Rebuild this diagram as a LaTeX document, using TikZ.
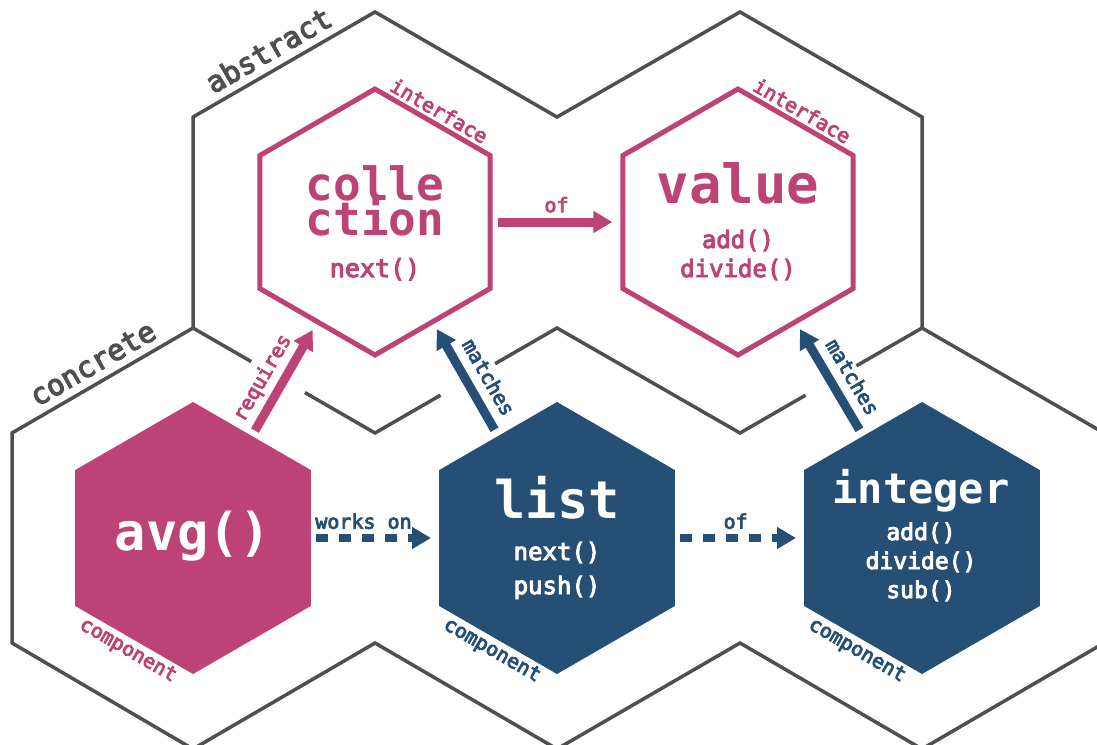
\documentclass[tikz,border=0pt]{standalone}
\usepackage{fontspec}
\newfontfamily\medmono[FakeBold=4]{DejaVu Sans Mono}
\newfontfamily\boldmono{DejaVu Sans Mono Bold}
\usetikzlibrary{arrows.meta,calc,shapes.geometric}

\definecolor{pinkc}{HTML}{BD4276}
\definecolor{bluec}{HTML}{264F75}
\definecolor{grayc}{HTML}{4F4F4F}

\begin{document}
\begin{tikzpicture}[x=1pt, y=-1pt,
  outline/.style={draw=grayc, line width=3.5pt},
  hexbase/.style={regular polygon, regular polygon sides=6, shape border rotate=30, inner sep=0pt},
  ihex/.style={hexbase, minimum size=266pt, draw=pinkc, line width=5pt},
  chex/.style={hexbase, minimum size=272pt, fill=#1},
  fs/.style={font=\medmono\fontsize{#1}{#1}\selectfont},
  ts/.style={font=\boldmono\fontsize{#1}{#1}\selectfont},
  lbl/.style={fs=20, inner sep=2pt},
  biglbl/.style={fs=29, text=grayc, inner sep=9pt, anchor=south},
  solidarrow/.style={draw=#1, line width=9pt, -{Triangle[length=19pt,width=21pt]}},
  dasharrow/.style={draw=bluec, line width=8pt, dash pattern=on 12pt off 11pt,
    -{Triangle[length=19pt,width=21pt]}, shorten <=5pt, shorten >=8pt},
]
\useasboundingbox (0,0) rectangle (1097,744);

% corners of the outer hex grid
\coordinate (A1) at (193,328);
\coordinate (B1) at (375,433);
\coordinate (A2) at (557,328);
\coordinate (B2) at (740,433);
\coordinate (A3) at (922,328);
\coordinate (P1) at (193,117);
\coordinate (P2) at (375,12);
\coordinate (Q1) at (12,433);

% abstract and concrete regions
\draw[outline, line join=miter] (A1) -- (P1) -- (P2) -- (557,117) -- (740,12) -- (922,117) -- (A3)
  -- (1104,433) -- (1104,643) -- (922,749) -- (740,643) -- (557,749) -- (375,643) -- (193,749)
  -- (12,643) -- (Q1) -- cycle;
\draw[outline] (A1) -- ($(A1)!0.32!(B1)$);
\draw[outline, line join=miter] ($(A1)!0.615!(B1)$) -- (B1) -- ($(B1)!0.36!(A2)$);
\draw[outline, line join=miter] ($(B1)!0.66!(A2)$) -- (A2) -- (B2) -- ($(B2)!0.36!(A3)$);
\draw[outline] ($(B2)!0.64!(A3)$) -- (A3);

\node[biglbl, rotate=30] (absL) at ($(P1)!0.47!(P2)$) {abstract};
\node[biglbl, rotate=30] (conL) at ($(Q1)!0.5!(A1)$) {concrete};

% interfaces
\node[ihex] (coll) at (375,222) {};
\node[ihex] (val) at (738,222) {};
% components
\node[chex=pinkc] (avg) at (193,538) {};
\node[chex=bluec] (list) at (557,538) {};
\node[chex=bluec] (int) at (922,538) {};

% texts inside the hexagons
\node[ts=46, text=pinkc, anchor=base] (collA) at (375,200) {colle};
\node[ts=46, text=pinkc, anchor=base] (collB) at (375,235) {ction};
\node[fs=25, text=pinkc, anchor=base] (collM) at (375,277) {next()};
\node[ts=54, text=pinkc, anchor=base] (valT) at (738,203) {value};
\node[fs=24, text=pinkc, anchor=base] (valM1) at (738,248) {add()};
\node[fs=24, text=pinkc, anchor=base] (valM2) at (738,277) {divide()};
\node[ts=52, text=white, anchor=base] (avgT) at (193,550) {avg()};
\node[ts=52, text=white, anchor=base] (listT) at (557,518) {list};
\node[fs=24, text=white, anchor=base] (listM1) at (557,560) {next()};
\node[fs=24, text=white, anchor=base] (listM2) at (557,594) {push()};
\node[ts=42, text=white, anchor=base] (intT) at (921,503) {integer};
\node[fs=23, text=white, anchor=base] (intM1) at (921,540) {add()};
\node[fs=23, text=white, anchor=base] (intM2) at (921,569) {divide()};
\node[fs=23, text=white, anchor=base] (intM3) at (921,598) {sub()};

% kind labels along the hexagon edges
\node[lbl, text=pinkc, rotate=-30, anchor=south, inner sep=3pt] (collK) at (coll.60) {interface};
\node[lbl, text=pinkc, rotate=-30, anchor=south, inner sep=3pt] (valK) at (val.60) {interface};
\node[lbl, text=pinkc, rotate=-30, anchor=north, inner sep=3pt] (avgK) at (avg.240) {component};
\node[lbl, text=bluec, rotate=-30, anchor=north, inner sep=3pt] (listK) at (list.240) {component};
\node[lbl, text=bluec, rotate=-30, anchor=north, inner sep=3pt] (intK) at (int.240) {component};

% relations
\draw[solidarrow=pinkc, shorten <=5pt, shorten >=8pt] (coll.east) --
  node[lbl, text=pinkc, above=3pt] (ofA) {of} (val.west);
\draw[solidarrow=pinkc, shorten <=6pt, shorten >=7pt] (avg.60) --
  node[lbl, text=pinkc, sloped, pos=0.43, above=3pt] (reqL) {requires} (coll.240);
\draw[solidarrow=bluec, shorten <=7pt, shorten >=6pt] (list.120) --
  node[lbl, text=bluec, sloped, pos=0.43, above=7pt] (matA) {matches} (coll.300);
\draw[solidarrow=bluec, shorten <=7pt, shorten >=6pt] (int.120) --
  node[lbl, text=bluec, sloped, pos=0.43, above=7pt] (matB) {matches} (val.300);
\draw[dasharrow] (avg.east) --
  node[lbl, text=bluec, pos=0.41, above=3pt] (worksL) {works on} (list.west);
\draw[dasharrow] (list.east) --
  node[lbl, text=bluec, pos=0.47, above=3pt] (ofB) {of} (int.west);
\end{tikzpicture}
\end{document}
